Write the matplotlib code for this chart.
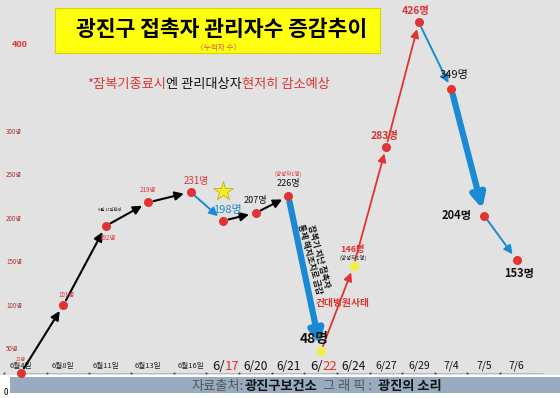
import numpy as np
import matplotlib
matplotlib.use('Agg')
import matplotlib.pyplot as plt
from matplotlib.patches import Rectangle
from matplotlib.transforms import ScaledTranslation

plt.rcParams['font.family'] = ['Noto Sans CJK KR', 'DejaVu Sans']

# data
dates = ['6월4일', '6월8일', '6월11일', '6월13일', '6월16일', '6/17', '6/20', '6/21',
         '6/22', '6/24', '6/27', '6/29', '7/4', '7/5', '7/6']
counts = [23, 101, 192, 219, 231, 198, 207, 226, 48, 146, 283, 426, 349, 204, 153]
ytick_vals = [0, 50, 100, 150, 200, 250, 300, 400]
ytick_text = ['0', '50명', '100명', '150명', '200명', '250명', '300명', '400']

W, H = 560, 398
RED = '#e03333'
BLUE = '#1a8ad4'
BG = '#e2e2e2'


def px(x, y):
    # pixel position -> axes fraction (axes fill the whole figure)
    return x / W, 1 - y / H


# first five dates are spaced wider than the rest
def fwd(x):
    x = np.asarray(x, dtype=float)
    return np.where(x < 4, 1.3 * x, x + 1.2)


def inv(t):
    t = np.asarray(t, dtype=float)
    return np.where(t < 5.2, t / 1.3, t - 1.2)


fig = plt.figure(figsize=(W / 100, H / 100), dpi=100)
fig.patch.set_facecolor(BG)
ax = fig.add_axes([0, 0, 1, 1])
ax.set_facecolor(BG)
ax.set_xscale('function', functions=(fwd, inv))
ax.set_xlim(-0.495, 15.33)
ax.set_ylim(-5.75, 451.7)
ax.axis('off')

x = np.arange(len(counts))

# title box
ax.add_patch(Rectangle(px(55, 53), 325 / W, 45 / H, transform=ax.transAxes,
                       facecolor='#ffff10', edgecolor='#d8d800', lw=0.8, zorder=1))
ax.text(*px(222, 29), '광진구 접촉자 관리자수 증감추이', transform=ax.transAxes,
        ha='center', va='center', fontsize=15.5, fontweight='bold', color='black', zorder=2)
ax.text(*px(218, 48), '〈누적자 수〉', transform=ax.transAxes, ha='center', va='center',
        fontsize=5.5, color='#e05050', zorder=2)

# note line, in three colours
t1 = ax.text(*px(87, 88), '*잠복기종료시', transform=ax.transAxes, ha='left',
             va='baseline', fontsize=9.5, color=RED)
t2 = ax.annotate('엔 관리대상자', xy=(1, 0), xycoords=t1, va='bottom',
                 fontsize=9.5, color='#111111')
ax.annotate('현저히 감소예상', xy=(1, 0), xycoords=t2, va='bottom',
            fontsize=9.5, color=RED)

# y labels
for v, s in zip(ytick_vals, ytick_text):
    if s == '400':
        ax.text(12 / W, v, s, transform=ax.get_yaxis_transform(), ha='left', va='center',
                fontsize=6.5, fontweight='bold', color=RED)
    elif s == '0':
        ax.text(4 / W, v, s, transform=ax.get_yaxis_transform(), ha='left', va='center',
                fontsize=6, color='black')
    else:
        ax.text(6 / W, v, s, transform=ax.get_yaxis_transform(), ha='left', va='center',
                fontsize=4.5, color='#b03030')

# bottom band
ax.add_patch(Rectangle(px(0, 398), 1, 23 / H, transform=ax.transAxes,
                       facecolor='white', edgecolor='none', zorder=1))
ax.add_patch(Rectangle(px(10, 393), 550 / W, 16 / H, transform=ax.transAxes,
                       facecolor='#97acc0', edgecolor='none', zorder=2))
c1 = ax.text(*px(192, 390), '자료출처:', transform=ax.transAxes, ha='left', va='baseline',
             fontsize=9.5, color='#555555', zorder=3)
c2 = ax.annotate('광진구보건소', xy=(1, 0), xycoords=c1, va='bottom', fontsize=9.5,
                 fontweight='bold', color='#111111', zorder=3)
c3 = ax.annotate('  그 래 픽 :  ', xy=(1, 0), xycoords=c2, va='bottom', fontsize=9.5,
                 color='#555555', zorder=3)
ax.annotate('광진의 소리', xy=(1, 0), xycoords=c3, va='bottom', fontsize=9.5,
            fontweight='bold', color='#111111', zorder=3)

# date row
xt = ax.get_xaxis_transform()
row_y = 1 - 366 / H
ax.plot([0.03, 0.97], [1 - 373 / H] * 2, transform=ax.transAxes, color='#a8a8a8',
        lw=0.5, zorder=1)
dot_shift = ScaledTranslation(-12 / 72, -5 / 72, fig.dpi_scale_trans)
ax.plot(x, [row_y] * len(x), 's', ms=1.2, color='#333333', mec='none',
        transform=xt + dot_shift, zorder=2)
for i, d in enumerate(dates):
    if '월' in d:
        ax.annotate(d, xy=(i, row_y), xycoords=xt, ha='center', va='center',
                    fontsize=5.5, color='#222222')
    elif d in ('6/17', '6/22'):
        ax.annotate(d[:2], xy=(i, row_y), xycoords=xt, xytext=(1, 0),
                    textcoords='offset points', ha='right', va='center',
                    fontsize=9.5, color='#111111')
        ax.annotate(d[2:], xy=(i, row_y), xycoords=xt, xytext=(1, 0),
                    textcoords='offset points', ha='left', va='center',
                    fontsize=9.5, color=RED)
    else:
        ax.annotate(d, xy=(i, row_y), xycoords=xt, ha='center', va='center',
                    fontsize=8.5 if i < 10 else 7.5, color='#111111')

# arrows between points
seg_color = ['black', 'black', 'black', 'black', BLUE, 'black', 'black', BLUE,
             RED, RED, RED, BLUE, BLUE, BLUE]
seg_width = [1.5, 1.5, 1.5, 1.5, 1.4, 1.5, 1.5, 4.5, 1.3, 1.3, 1.3, 1.4, 4.5, 1.4]
for i in range(len(counts) - 1):
    lw = seg_width[i]
    ax.annotate('', xy=(x[i + 1], counts[i + 1]), xytext=(x[i], counts[i]),
                arrowprops=dict(arrowstyle='-|>', color=seg_color[i], lw=lw,
                                mutation_scale=9 + lw * 2.5, shrinkA=4, shrinkB=5),
                zorder=4)

# points
pt_color = [RED] * len(counts)
pt_color[8] = '#f4ef3a'
pt_color[9] = '#f4ef3a'
for i in range(len(counts)):
    ax.plot(x[i], counts[i], 'o', ms=6.5, color=pt_color[i], mec='none', zorder=5)

# star near 6/17
ax.plot(x[5], counts[5], marker='*', ms=15, color='#f6ee20', mec='#b8b020', mew=0.6,
        zorder=5, transform=ax.transData + ScaledTranslation(0, 0.3, fig.dpi_scale_trans))


def lab(i, text, dx, dy, color='#111111', size=7, bold=False):
    ax.annotate(text, xy=(x[i], counts[i]), xytext=(dx, dy), textcoords='offset points',
                ha='center', va='center', fontsize=size, color=color,
                fontweight='bold' if bold else 'normal', zorder=6)


lab(0, f'{counts[0]}명', 0, 10, RED, 3.5)
lab(1, f'{counts[1]}명', 2, 7, RED, 4.5)
lab(2, f'{counts[2]}명', 1, -9, RED, 4.5)
lab(2, '6월 11일현재', 3, 12, '#222222', 3)
lab(3, f'{counts[3]}명', 0, 9, RED, 4.5)
lab(4, f'{counts[4]}명', 4, 8, RED, 7)
lab(5, f'{counts[5]}명', 3, 8, BLUE, 8)
lab(6, f'{counts[6]}명', 0, 9, '#111111', 6.5)
lab(7, f'{counts[7]}명', 0, 9, '#111111', 6.5)
lab(7, '(양성자1명)', 0, 16, RED, 4)
lab(8, f'{counts[8]}명', -5, 9, '#111111', 10, True)
lab(9, f'{counts[9]}명', -1, 12, RED, 6.5, True)
lab(9, '(양성자1명)', 0, 6, '#222222', 4)
lab(9, '건대병원사태', -8, -27, RED, 7, True)
lab(10, f'{counts[10]}명', -1, 8, RED, 7.5, True)
lab(11, f'{counts[11]}명', -2, 8, RED, 7.5, True)
lab(12, f'{counts[12]}명', 2, 10, '#111111', 8)
lab(13, f'{counts[13]}명', -20, 0, '#111111', 8, True)
lab(14, f'{counts[14]}명', 2, -10, '#111111', 8, True)

ax.text(*px(314, 258), '잠복기 지난 접촉자\n통제 해지조치로 급감', transform=ax.transAxes,
        rotation=-75, ha='center', va='center', fontsize=6, fontweight='bold',
        linespacing=1.0, color='#111111', zorder=6, rotation_mode='anchor')

fig.savefig('out.png', dpi=100, facecolor=BG)
